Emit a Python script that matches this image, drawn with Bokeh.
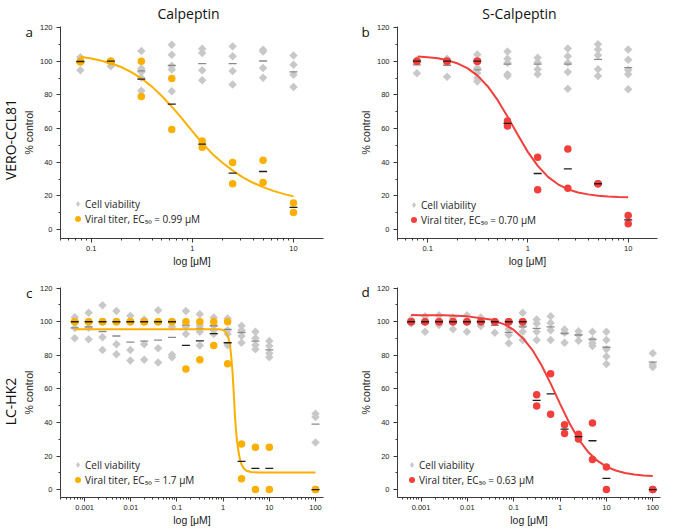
import math
from bokeh.plotting import figure
from bokeh.models import (Range1d, FixedTicker, CustomJSTickFormatter, Label,
                          Legend, LegendItem, GridBox)
from bokeh.layouts import column, row
from bokeh.embed import file_html
from bokeh.resources import INLINE

# ---------------- data ----------------
conc_top = [0.078, 0.156, 0.3125, 0.625, 1.25, 2.5, 5, 10]
conc_bottom = [0.00061, 0.00122, 0.00244, 0.00488, 0.00977, 0.0195, 0.039,
               0.078, 0.156, 0.3125, 0.625, 1.25, 2.5, 5, 10, 100]

# panel a: Calpeptin / VERO-CCL81
viab_a = [[102.4, 94.6, 100.0], [99.5, 97.0, 100.0],
          [106.0, 95.6, 93.6, 90.2, 82.4], [109.8, 103.8, 97.1, 82.2, 95.0],
          [107.4, 104.8, 94.6, 88.7], [108.8, 103.0, 94.2, 86.1],
          [106.8, 105.8, 96.0, 90.2], [103.4, 97.9, 92.0, 84.7]]
viab_mean_a = [99.0, 98.8, 94.2, 97.5, 98.5, 98.5, 100.1, 93.6]
titer_a = [[100.0, 99.5], [100.0, 100.0], [100.0, 79.0], [89.7, 59.5],
           [52.6, 48.9], [39.8, 27.2], [41.2, 28.0], [15.8, 10.2]]
titer_mean_a = [99.8, 100.0, 89.3, 74.5, 50.8, 33.5, 34.5, 13.2]
fit_x_a = [0.078, 0.1, 0.126, 0.158, 0.2, 0.251, 0.316, 0.398, 0.501, 0.631,
           0.794, 1.0, 1.259, 1.585, 1.995, 2.512, 3.162, 3.981, 5.012, 6.31,
           7.943, 10.0]
fit_y_a = [102.6, 101.6, 100.3, 98.6, 96.4, 93.4, 89.6, 84.9, 79.2, 72.7,
           65.7, 58.3, 51.2, 44.8, 39.5, 35.0, 31.0, 27.8, 25.2, 23.0, 21.2, 19.7]

# panel b: S-Calpeptin / VERO-CCL81
viab_b = [[100.0, 92.8, 100.5], [101.5, 90.8, 100.5],
          [104.0, 101.0, 96.0, 93.0, 88.0, 90.0], [105.7, 101.5, 99.0, 92.2, 91.2],
          [102.1, 99.2, 95.2, 92.2], [107.5, 103.0, 99.0, 93.6, 83.7],
          [110.0, 107.0, 103.5, 95.2, 91.2], [107.0, 100.8, 94.8, 92.2, 83.3]]
viab_mean_b = [97.8, 97.6, 94.8, 98.2, 98.2, 98.2, 101.1, 96.2]
titer_b = [[100.0, 100.0], [100.0, 100.0], [100.0, 100.0], [64.5, 61.5],
           [43.0, 23.6], [47.8, 24.6], [27.2, 27.2], [8.3, 3.4]]
titer_mean_b = [100.0, 100.0, 100.0, 63.1, 33.3, 36.1, 27.2, 5.8]
fit_x_b = [0.0794, 0.1, 0.126, 0.158, 0.2, 0.251, 0.316, 0.398, 0.501, 0.631,
           0.794, 1.0, 1.259, 1.585, 1.995, 2.512, 3.162, 3.981, 5.012, 6.31,
           7.943, 10.0]
fit_y_b = [102.8, 102.4, 101.7, 100.5, 98.6, 95.7, 91.3, 85.0, 76.7, 66.7,
           56.1, 46.0, 37.7, 31.3, 26.9, 23.9, 22.0, 20.9, 20.1, 19.7, 19.4, 19.25]

# panel c: Calpeptin / LC-HK2
viab_c = [[102.7, 96.2, 90.1], [105.4, 96.4, 89.5], [109.8, 90.7, 83.2],
          [106.4, 86.6, 80.7], [103.5, 83.2, 76.9], [101.3, 86.6, 77.3],
          [106.8, 84.2, 75.7], [100.0, 97.0, 80.3, 78.9], [106.4, 97.0, 92.7],
          [104.5, 97.6, 94.0, 85.8], [102.5, 97.6, 95.0, 92.7],
          [102.0, 95.0, 92.7, 86.0], [97.6, 95.0, 91.5, 87.5],
          [94.0, 90.1, 86.2, 83.6], [88.5, 85.6, 81.3, 78.9], [45.2, 43.3, 28.1]]
viab_mean_c = [96.4, 97.0, 94.2, 91.5, 87.9, 88.5, 89.1, 90.7, 98.0, 96.0,
               97.6, 95.4, 93.6, 88.5, 83.2, 39.0]
titer_c = [[100.0, 100.0], [100.0, 100.0], [100.0, 100.0], [100.0, 100.0],
           [100.0, 100.0], [100.0, 100.0], [100.0, 100.0], [100.0, 100.0],
           [100.0, 71.8], [100.0, 77.3], [100.0, 85.8], [100.0, 75.0],
           [27.1, 6.5], [25.2, 0.0], [25.2, 0.0], [0.0, 0.0]]
titer_mean_c = [100.0, 100.0, 100.0, 100.0, 100.0, 100.0, 100.0, 100.0,
                85.9, 88.6, 92.9, 87.5, 16.8, 12.6, 12.6, 0.0]
fit_x_c = [0.00061, 0.01, 0.1, 0.5, 0.8, 0.9, 1.0, 1.1, 1.2, 1.3, 1.4, 1.5,
           1.6, 1.7, 1.8, 1.9, 2.0, 2.1, 2.2, 2.3, 2.5, 2.8, 3.2, 4.0, 6.0, 100]
fit_y_c = [95.6, 95.6, 95.6, 95.6, 95.5, 95.4, 95.0, 94.2, 92.8, 90.5, 86.5,
           79.0, 69.5, 57.0, 44.0, 35.0, 28.7, 24.5, 21.0, 18.3, 15.0, 12.6,
           11.2, 10.5, 10.2, 10.2]

# panel d: S-Calpeptin / LC-HK2
viab_d = [[101.3, 100.0, 99.0], [103.3, 94.0, 100.0], [103.9, 98.0, 100.0],
          [102.5, 95.6, 100.0], [103.9, 94.0, 100.0], [102.5, 97.4, 100.0],
          [100.0, 93.4, 100.0], [100.0, 95.6, 92.1, 87.2],
          [105.4, 97.4, 94.0, 89.1], [101.3, 99.0, 94.0, 89.1],
          [103.3, 99.3, 95.0, 89.1], [95.4, 93.4, 87.5], [94.4, 92.1, 88.7],
          [94.0, 89.1, 87.2, 85.6], [94.0, 89.1, 83.6, 79.3, 74.8],
          [81.3, 74.4, 73.0]]
viab_mean_d = [100.1, 99.1, 100.6, 99.4, 99.3, 100.0, 97.8, 93.7, 97.0, 96.0,
               97.0, 93.0, 92.1, 89.7, 84.8, 75.9]
titer_d = [[100.0, 100.0], [100.0, 100.0], [100.0, 100.0], [100.0, 100.0],
           [100.0, 100.0], [100.0, 100.0], [100.0, 100.0], [100.0, 100.0],
           [100.0, 100.0], [56.5, 49.8], [69.0, 44.9], [38.6, 33.4],
           [33.0, 30.1], [39.7, 17.9], [13.4, 0.0], [0.0, 0.0]]
titer_mean_d = [100.0, 100.0, 100.0, 100.0, 100.0, 100.0, 100.0, 100.0,
                100.0, 53.2, 57.0, 36.0, 31.6, 29.1, 6.7, 0.0]
fit_x_d = [0.00061, 0.001, 0.00316, 0.01, 0.0316, 0.0631, 0.1, 0.158, 0.251,
           0.398, 0.631, 1.0, 1.585, 2.512, 3.981, 6.31, 10.0, 15.85, 25.12,
           39.81, 63.1, 100]
fit_y_d = [104.0, 103.9, 103.8, 103.2, 101.3, 98.4, 95.1, 90.2, 83.3, 74.1,
           63.0, 51.1, 39.7, 30.0, 22.6, 17.3, 13.7, 11.4, 9.9, 9.0, 8.4, 8.05]

# texts
col_titles = ["Calpeptin", "S-Calpeptin"]
row_titles = ["VERO-CCL81", "LC-HK2"]
letters = ["a", "b", "c", "d"]
legend_viab = "Cell viability"
legend_titer = ["Viral titer, EC\u2085\u2080 = 0.99 \u03bcM",
                "Viral titer, EC\u2085\u2080 = 0.70 \u03bcM",
                "Viral titer, EC\u2085\u2080 = 1.7 \u03bcM",
                "Viral titer, EC\u2085\u2080 = 0.63 \u03bcM"]
x_label = "log [\u03bcM]"
y_label = "% control"

# ticks
y_major = [0, 20, 40, 60, 80, 100, 120]
y_minor = [10, 30, 50, 70, 90, 110]
x_major_top = [0.1, 1, 10]
x_major_bottom = [0.001, 0.01, 0.1, 1, 10, 100]
x_minor = [m * 10.0 ** k for k in range(-4, 3) for m in range(2, 10)]

# ---------------- styles / layout ----------------
ORANGE = "#fbb000"
RED = "#f23f3c"
GRAY = "#c8c8c8"
GRAY_BAR = "#8a8a8a"
BLACK_BAR = "#1e1e1e"
AXIS_FONT = "Liberation Sans"
TEXT_FONT = "Open Sans"
PAGE_W, PAGE_H = 685, 528
COL_W = [340, 345]
ROW_H = [269, 259]


def flatten(conc, reps):
    xs, ys = [], []
    for c, vals in zip(conc, reps):
        for v in vals:
            xs.append(c)
            ys.append(v)
    return xs, ys


def panel(width, height, bl, br, bt, bb, xr, yr, xmajor, conc, viab,
          viab_mean, titer, titer_mean, fx, fy, color, legend_text, leg_loc):
    p = figure(width=width, height=height, x_axis_type="log",
               x_range=Range1d(*xr), y_range=Range1d(*yr),
               output_backend="svg", toolbar_location=None,
               min_border_left=bl, min_border_right=br,
               min_border_top=bt, min_border_bottom=bb)
    p.title.visible = False
    p.outline_line_color = None
    p.grid.visible = False
    p.background_fill_color = "white"
    p.border_fill_color = "white"

    p.xaxis.ticker = FixedTicker(ticks=xmajor, minor_ticks=x_minor)
    p.xaxis.formatter = CustomJSTickFormatter(code="return String(tick);")
    p.yaxis.ticker = FixedTicker(ticks=y_major, minor_ticks=y_minor)
    for ax in p.axis:
        ax.axis_line_color = "#3a3a3a"
        ax.major_tick_line_color = "#3a3a3a"
        ax.minor_tick_line_color = "#3a3a3a"
        ax.major_tick_in = 0
        ax.major_tick_out = 4
        ax.minor_tick_in = 0
        ax.minor_tick_out = 2
        ax.major_label_text_font = AXIS_FONT
        ax.major_label_text_font_size = "7.5px"
        ax.major_label_text_color = "#222222"
        ax.axis_label_text_font = AXIS_FONT
        ax.axis_label_text_font_size = "10.5px"
        ax.axis_label_text_font_style = "normal"
        ax.axis_label_text_color = "#222222"
    p.xaxis.axis_label = x_label
    p.xaxis.major_label_standoff = 3
    p.xaxis.axis_label_standoff = 1
    p.yaxis.axis_label = y_label
    p.yaxis.major_label_standoff = 4
    p.yaxis.axis_label_standoff = 2

    vx, vy = flatten(conc, viab)
    tx, ty = flatten(conc, titer)
    # diamond key for the legend (hidden underneath the rotated squares)
    r_vkey = p.scatter(vx, vy, marker="diamond", size=6, fill_color=GRAY,
                       line_color=None)
    p.scatter(vx, vy, marker="square", angle=math.pi / 4, size=6,
              fill_color=GRAY, line_color=None)
    p.scatter(conc, viab_mean, marker="dash", size=8, line_color=GRAY_BAR,
              line_width=1.3)
    r_t = p.scatter(tx, ty, marker="circle", size=7.5, fill_color=color,
                    line_color=None)
    p.line(fx, fy, line_color=color, line_width=2)
    p.scatter(conc, titer_mean, marker="dash", size=8, line_color=BLACK_BAR,
              line_width=1.3)

    legend = Legend(items=[LegendItem(label=legend_viab, renderers=[r_vkey]),
                           LegendItem(label=legend_text, renderers=[r_t])],
                    location=leg_loc, orientation="vertical",
                    glyph_width=15, glyph_height=15, label_height=15,
                    label_width=10, label_standoff=0, spacing=0, padding=0,
                    margin=0, border_line_color=None,
                    background_fill_alpha=0.0,
                    label_text_font=TEXT_FONT, label_text_font_size="10px",
                    label_text_color="#222222")
    p.add_layout(legend)
    return p


pa = panel(COL_W[0], ROW_H[0], 60, 17, 26, 30, (0.0496, 19.8), (-5.3, 120.6),
           x_major_top, conc_top, viab_a, viab_mean_a, titer_a, titer_mean_a,
           fit_x_a, fit_y_a, ORANGE, legend_titer[0], (10, 12))
pb = panel(COL_W[1], ROW_H[0], 57, 28, 26, 30, (0.05, 19.6), (-5.3, 120.6),
           x_major_top, conc_top, viab_b, viab_mean_b, titer_b, titer_mean_b,
           fit_x_b, fit_y_b, RED, legend_titer[1], (9, 11))
pc = panel(COL_W[0], ROW_H[1], 60, 17, 18, 29, (0.0003, 149), (-4.7, 120.4),
           x_major_bottom, conc_bottom, viab_c, viab_mean_c, titer_c,
           titer_mean_c, fit_x_c, fit_y_c, ORANGE, legend_titer[2], (10, 10))
pd_ = panel(COL_W[1], ROW_H[1], 57, 25, 18, 29, (0.00031, 147), (-4.7, 120.4),
            x_major_bottom, conc_bottom, viab_d, viab_mean_d, titer_d,
            titer_mean_d, fit_x_d, fit_y_d, RED, legend_titer[3], (7, 10))

# transparent overlay carrying the free-standing texts (page pixel coordinates)
ov = figure(width=PAGE_W, height=PAGE_H, x_range=Range1d(0, PAGE_W),
            y_range=Range1d(PAGE_H, 0), output_backend="svg",
            toolbar_location=None, x_axis_location=None, y_axis_location=None,
            min_border=0)
ov.title.visible = False
ov.outline_line_color = None
ov.background_fill_color = None
ov.border_fill_color = None
ov.grid.visible = False


def add_text(x, y, text, size, align="left", baseline="alphabetic", angle=0.0):
    ov.add_layout(Label(x=x, y=y, text=text, angle=angle,
                        text_font=TEXT_FONT, text_font_size=size,
                        text_align=align, text_baseline=baseline,
                        text_color="#111111"))


add_text(188, 12.5, col_titles[0], "14px", align="center")
add_text(519, 12.5, col_titles[1], "14px", align="center")
add_text(10, 139, row_titles[0], "14px", align="center", baseline="middle",
         angle=math.pi / 2)
add_text(10, 401, row_titles[1], "14px", align="center", baseline="middle",
         angle=math.pi / 2)
add_text(25, 31.5, letters[0], "13.5px")
add_text(361, 31.5, letters[1], "13.5px")
add_text(25.5, 292.5, letters[2], "13.5px")
add_text(361, 291.5, letters[3], "13.5px")

main = column(row(pa, pb), row(pc, pd_))
grid = GridBox(children=[(main, 0, 0), (ov, 0, 0)])
open("out.html", "w").write(file_html(grid, INLINE))
